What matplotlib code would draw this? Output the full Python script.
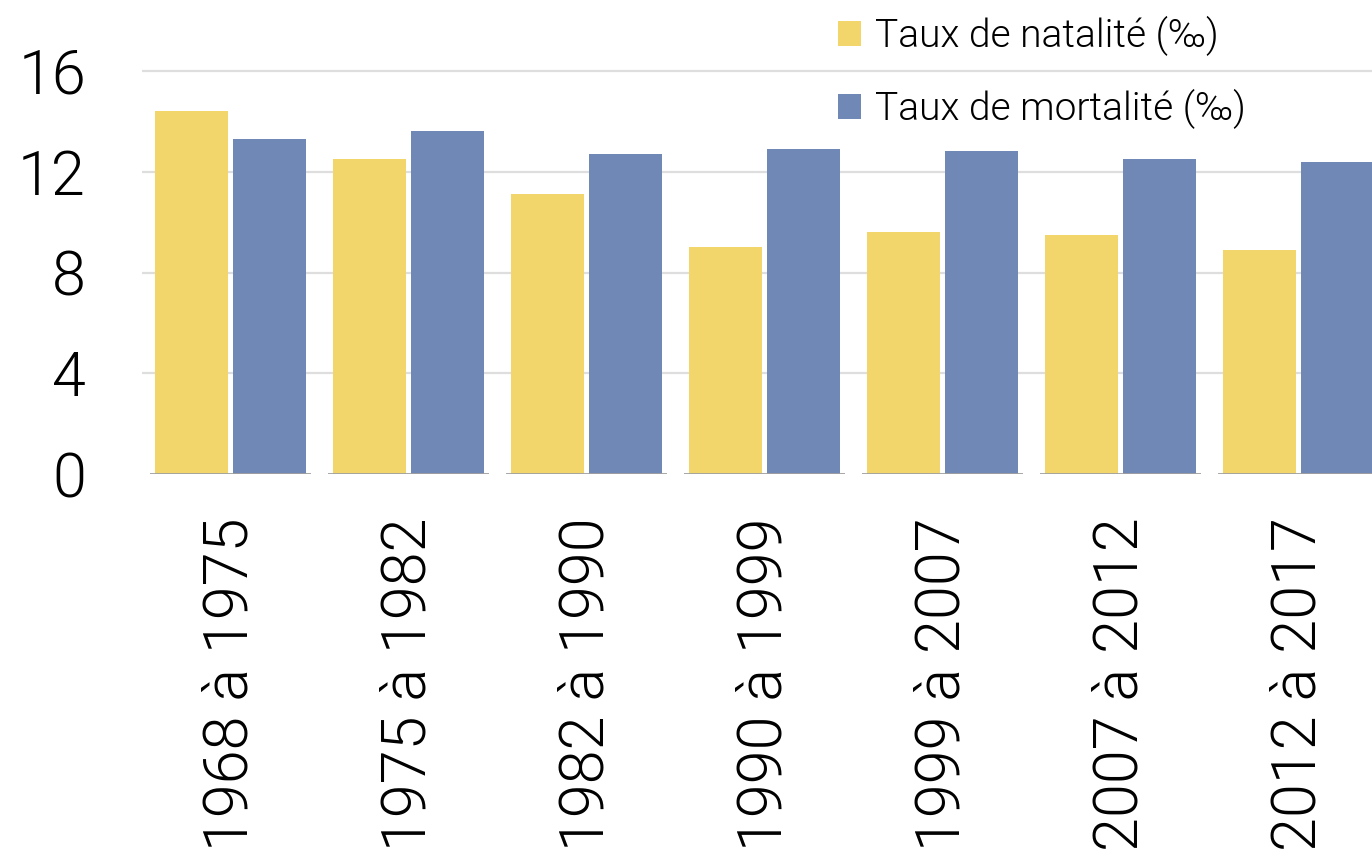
import matplotlib
matplotlib.use("Agg")
import matplotlib.pyplot as plt
import numpy as np
from matplotlib import font_manager

categories = ["1968 à 1975", "1975 à 1982", "1982 à 1990", "1990 à 1999",
              "1999 à 2007", "2007 à 2012", "2012 à 2017"]
natalite = [14.4, 12.5, 11.1, 9.0, 9.6, 9.5, 8.9]
mortalite = [13.3, 13.6, 12.7, 12.9, 12.8, 12.5, 12.4]
series_names = ["Taux de natalité (‰)", "Taux de mortalité (‰)"]
yticks = [0, 4, 8, 12, 16]

col_nat = "#F3D66B"
col_mort = "#7088B6"

family = "Liberation Sans"
weight = "normal"
avail = {}
for f in font_manager.fontManager.ttflist:
    avail.setdefault(f.name, set()).add(f.weight)
for cand in ["Roboto", "Lato", "Open Sans", "Inter", "Noto Sans"]:
    ws = avail.get(cand, set())
    if 300 in ws or "light" in ws:
        family, weight = cand, 300
        break
plt.rcParams["font.family"] = [family, "DejaVu Sans"]
plt.rcParams["font.weight"] = weight

fig = plt.figure(figsize=(13.72, 8.49), dpi=100)
W, H = 1372, 849
left_px, right_px = 141.5, 1387.5
zero_px, unit_px = 474.3, 25.22
ytop = 16.5
ax = fig.add_axes([left_px / W, (H - zero_px) / H, (right_px - left_px) / W, ytop * unit_px / H])

x = np.arange(len(categories))
bw = 0.41
off = 0.22
ax.bar(x - off, natalite, width=bw, color=col_nat, label=series_names[0], zorder=3)
ax.bar(x + off, mortalite, width=bw, color=col_mort, label=series_names[1], zorder=3)

ax.set_xlim(-0.5, len(categories) - 0.5)
ax.set_ylim(0, ytop)
ax.set_yticks(yticks)
ax.set_yticklabels([str(v) for v in yticks], fontsize=44, fontweight=weight)
for v in yticks[1:]:
    ax.axhline(v, color="#dedede", lw=1.6, zorder=1)
ax.hlines(np.zeros(len(x)), x - 0.45, x + 0.45, color="#a0a0a0", lw=1.3, zorder=4)

ax.set_xticks(x)
ax.set_xticklabels(categories, rotation=90, fontsize=44, fontweight=weight, va="top", ha="center")
ax.tick_params(axis="y", length=0, pad=40)
ax.tick_params(axis="x", length=0, pad=31)
for s in ax.spines.values():
    s.set_visible(False)

leg = ax.legend(loc="upper left", bbox_to_anchor=(838 / W, 1 - 16 / H), bbox_transform=fig.transFigure,
                frameon=False, handlelength=0.6, handleheight=0.6,
                handletextpad=0.35, labelspacing=0.85, borderpad=0, borderaxespad=0,
                prop={"family": family, "weight": weight, "size": 28})

fig.savefig("out.png", dpi=100)
